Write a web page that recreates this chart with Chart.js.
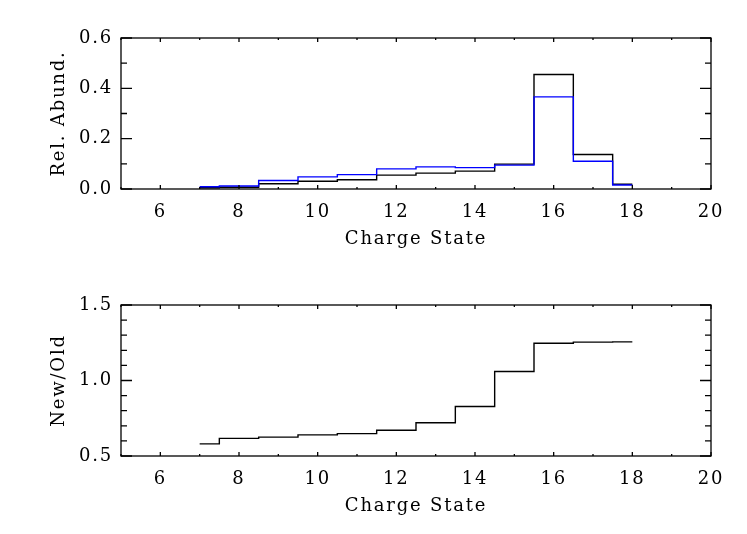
<!DOCTYPE html>
<html>
<head>
<meta charset="utf-8">
<script src="https://cdn.jsdelivr.net/npm/chart.js@4.4.1/dist/chart.umd.min.js"></script>
<style>
    body { margin: 0; background: #fff; }
    canvas { position: absolute; left: 0; }
    #topCanvas { top: 0; }
    #bottomCanvas { top: 267px; }
</style>
</head>
<body>
<canvas id="topCanvas" width="747" height="267"></canvas>
<canvas id="bottomCanvas" width="747" height="267"></canvas>
<script>
//data
var chargeStates = [7, 8, 9, 10, 11, 12, 13, 14, 15, 16, 17, 18];
var abundNew = [0.005, 0.007, 0.021, 0.031, 0.037, 0.055, 0.063, 0.071, 0.099, 0.455, 0.137, 0.019];   //black
var abundOld = [0.009, 0.012, 0.034, 0.048, 0.057, 0.080, 0.088, 0.085, 0.095, 0.366, 0.110, 0.016];   //blue
var ratioNewOld = [0.58, 0.617, 0.625, 0.64, 0.648, 0.671, 0.72, 0.828, 1.06, 1.247, 1.254, 1.256];

var xTickLabels = [6, 8, 10, 12, 14, 16, 18, 20];
var topYLabels = [0.0, 0.2, 0.4, 0.6];
var bottomYLabels = [0.5, 1.0, 1.5];

var FONT = {family: "'DejaVu Serif', serif", size: 18};

function toPoints(values){
    return chargeStates.map(function (x, i) { return {x: x, y: values[i]}; });
}

function isLabel(list, v){
    return list.some(function (l) { return Math.abs(l - v) < 1e-6; });
}

//IDL style box with ticks pointing inwards on all four sides
var boxPlugin = {
    id: 'idlBox',
    beforeLayout: function (chart) { chart.ctx.letterSpacing = '1.8px'; },   //wide IDL lettering
    beforeDraw: function (chart) { chart.ctx.letterSpacing = '1.8px'; },
    afterDraw: function (chart, args, opts) {
        var ctx = chart.ctx;
        var a = chart.chartArea;
        var xs = chart.scales.x, ys = chart.scales.y;
        ctx.save();
        ctx.strokeStyle = '#000';
        ctx.lineWidth = 1.3;
        ctx.strokeRect(a.left, a.top, a.right - a.left, a.bottom - a.top);
        ctx.beginPath();
        xs.ticks.forEach(function (t) {
            var px = xs.getPixelForValue(t.value);
            var len = isLabel(xTickLabels, t.value) ? 4 : 2;
            ctx.moveTo(px, a.bottom); ctx.lineTo(px, a.bottom - len);
            ctx.moveTo(px, a.top); ctx.lineTo(px, a.top + len);
        });
        ys.ticks.forEach(function (t) {
            var py = ys.getPixelForValue(t.value);
            var len = isLabel(opts.yLabels, t.value) ? 11 : 6;
            ctx.moveTo(a.left, py); ctx.lineTo(a.left + len, py);
            ctx.moveTo(a.right, py); ctx.lineTo(a.right - len, py);
        });
        ctx.stroke();
        ctx.restore();
    }
};

function makeOptions(yMin, yMax, yTitle, yLabels){
    return {
        responsive: false,
        devicePixelRatio: 1,
        animation: false,
        layout: {padding: {left: 0, top: 38, right: 36, bottom: 0}},
        plugins: {
            legend: {display: false},
            tooltip: {enabled: false},
            idlBox: {yLabels: yLabels}
        },
        scales: {
            x: {
                type: 'linear', min: 5, max: 20,
                grid: {display: false, drawTicks: false},
                border: {display: false},
                afterFit: function (s) { s.height = 78; },
                ticks: {
                    stepSize: 1, autoSkip: false, maxRotation: 0, padding: 13,
                    color: '#000', font: FONT,
                    callback: function (v) { return isLabel(xTickLabels, v) ? String(v) : ''; }
                },
                title: {display: true, text: 'Charge State', color: '#000', font: FONT, padding: {top: 0, bottom: 17}}
            },
            y: {
                min: yMin, max: yMax,
                grid: {display: false, drawTicks: false},
                border: {display: false},
                afterFit: function (s) { s.width = 121; },
                ticks: {
                    stepSize: 0.1, autoSkip: false, padding: 8,
                    color: '#000', font: FONT,
                    callback: function (v) { return isLabel(yLabels, v) ? v.toFixed(1) : ''; }
                },
                title: {display: true, text: yTitle, color: '#000', font: FONT, padding: {top: 49, bottom: 0}}
            }
        }
    };
}

window.onload = function () {
    //top panel, blue first so it is drawn over the black one
    new Chart(document.getElementById('topCanvas').getContext('2d'), {
        type: 'line',
        data: {
            datasets: [
                {data: toPoints(abundOld), borderColor: '#0000ff', borderWidth: 1.4, stepped: 'middle', pointRadius: 0, fill: false},
                {data: toPoints(abundNew), borderColor: '#000000', borderWidth: 1.4, stepped: 'middle', pointRadius: 0, fill: false}
            ]
        },
        options: makeOptions(0, 0.6, 'Rel. Abund.', topYLabels),
        plugins: [boxPlugin]
    });

    //bottom panel
    new Chart(document.getElementById('bottomCanvas').getContext('2d'), {
        type: 'line',
        data: {
            datasets: [
                {data: toPoints(ratioNewOld), borderColor: '#000000', borderWidth: 1.4, stepped: 'middle', pointRadius: 0, fill: false}
            ]
        },
        options: makeOptions(0.5, 1.5, 'New/Old', bottomYLabels),
        plugins: [boxPlugin]
    });
};
</script>
</body>
</html>
